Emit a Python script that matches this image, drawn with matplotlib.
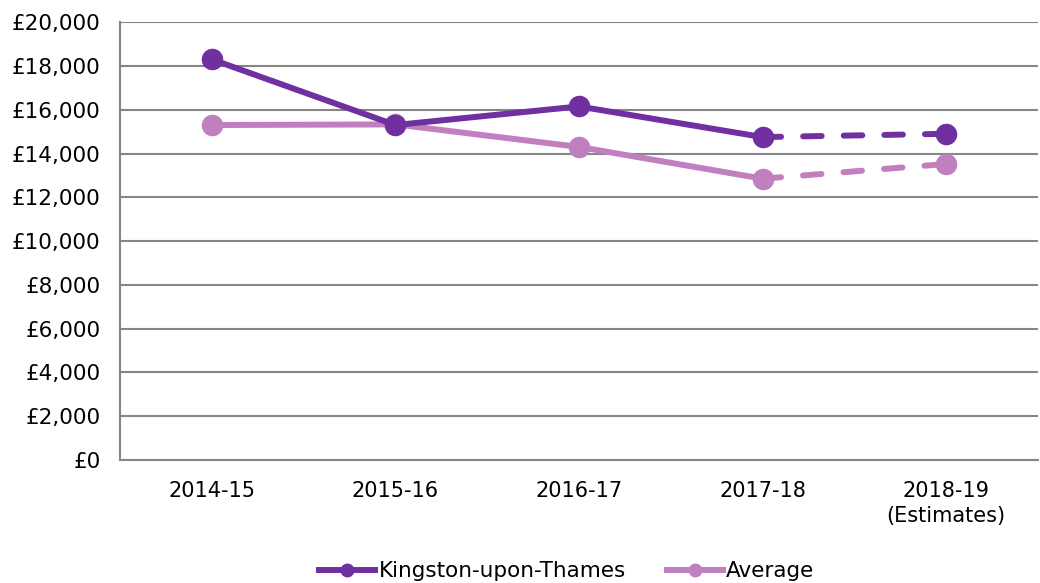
import matplotlib.pyplot as plt
from matplotlib.ticker import FuncFormatter
from matplotlib.lines import Line2D

years = ['2014-15', '2015-16', '2016-17', '2017-18', '2018-19\n(Estimates)']
kingston = [18300, 15300, 16150, 14750, 14900]
average = [15300, 15330, 14300, 12850, 13520]

dark = '#7030A0'
light = '#C080C0'

plt.rcParams['font.family'] = ['DejaVu Sans']

fig = plt.figure(figsize=(10.4, 5.83), dpi=100)
ax = fig.add_axes([0.1154, 0.211, 0.8826, 0.751])

x = list(range(len(years)))
lw = 4.3
ms = 14.5

# estimates part is dashed
for vals, col, z in [(average, light, 2), (kingston, dark, 3)]:
    ax.plot(x[:4], vals[:4], color=col, lw=lw, solid_capstyle='round', zorder=z)
    ax.plot(x[3:], vals[3:], color=col, lw=lw, dashes=(3.1, 3.7),
            dash_capstyle='round', zorder=z)
    ax.plot(x, vals, 'o', color=col, ms=ms, zorder=z + 0.5)

ax.set_xlim(-0.5, 4.5)
ax.set_ylim(0, 20000)
ax.set_yticks(range(0, 20001, 2000))
ax.yaxis.set_major_formatter(FuncFormatter(lambda v, p: '£{:,.0f}'.format(v)))
ax.set_xticks(x)
ax.set_xticklabels(years, fontsize=15, linespacing=1.3)
ax.tick_params(axis='y', labelsize=15.5, length=0, pad=14)
ax.tick_params(axis='x', length=0, pad=15)
ax.grid(axis='y', color='#868686', lw=1.5)
ax.set_axisbelow(True)
for s in ['top', 'right']:
    ax.spines[s].set_visible(False)
for s in ['left', 'bottom']:
    ax.spines[s].set_color('#868686')
    ax.spines[s].set_linewidth(1.5)

handles = [Line2D([], [], color=dark, lw=lw, marker='o', ms=9),
           Line2D([], [], color=light, lw=lw, marker='o', ms=9)]
fig.legend(handles, ['Kingston-upon-Thames', 'Average'], loc='lower center',
           bbox_to_anchor=(0.545, -0.03), ncol=2, frameon=False, fontsize=15.5,
           handlelength=2.6, handletextpad=0.15, columnspacing=1.9)

fig.savefig('out.png', dpi=100)
